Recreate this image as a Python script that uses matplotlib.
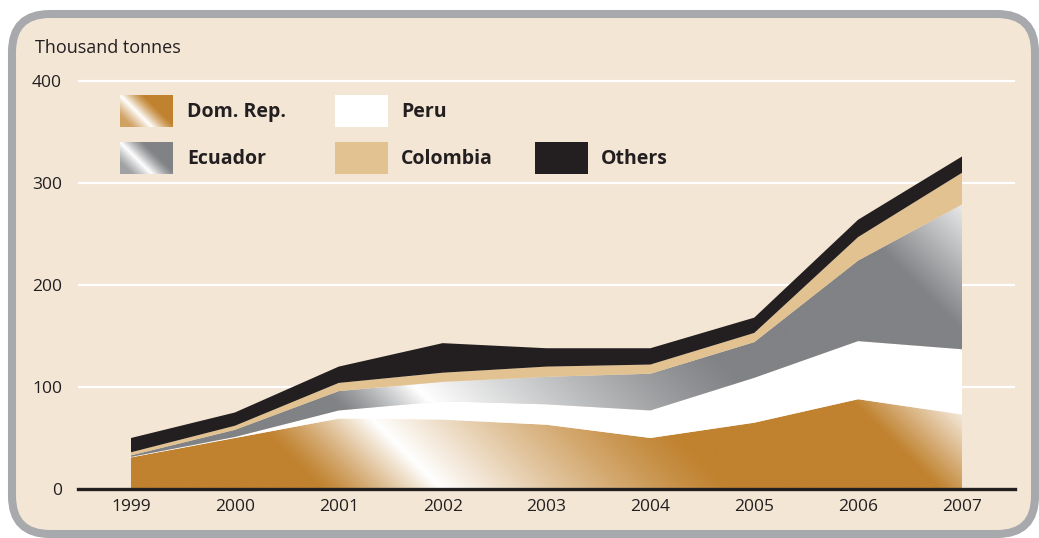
"""Stacked area chart: production by origin, 1999-2007 (thousand tonnes)."""

import matplotlib
matplotlib.use("Agg")
import matplotlib.pyplot as plt
import numpy as np
from matplotlib.patches import FancyBboxPatch, Rectangle

plt.rcParams["font.family"] = ["Open Sans", "DejaVu Sans"]

# ---- data -----------------------------------------------------------------
years = [1999, 2000, 2001, 2002, 2003, 2004, 2005, 2006, 2007]
dom_rep = [31, 50, 69, 68, 63, 50, 65, 88, 73]
peru = [0.5, 1, 8, 18, 20, 27, 44, 57, 64]
ecuador = [1.5, 7, 19, 19, 27, 36, 35, 79, 142]
colombia = [3, 4, 8, 9, 10, 9, 9, 23, 31]
others = [14, 13, 16, 29, 18, 16, 15, 17, 16]
y_ticks = [0, 100, 200, 300, 400]

# ---- styling ----------------------------------------------------------------
W, H = 1039, 538
BG = "#f3e6d5"
BORDER = "#a7a9ac"
INK = "#231f20"
GOLD = np.array([0xc0, 0x82, 0x2f]) / 255
GRAY = np.array([0x80, 0x82, 0x85]) / 255
WHITE = np.array([1.0, 1.0, 1.0])
TAN = "#e2c290"
BLACK = "#231f20"


def px_box(x, y_top, w, h):
    return [x / W, 1 - (y_top + h) / H, w / W, h / H]


def blend(base, w):
    w = np.clip(w, 0, 1)[..., None]
    return base * (1 - w) + WHITE * w


def ramp(v, left0, centre, right1, p_left=1.2, p_right=1.2):
    w = np.zeros_like(v, dtype=float)
    m = (v >= left0) & (v < centre)
    w[m] = ((v[m] - left0) / (centre - left0)) ** p_left
    m = (v >= centre) & (v < right1)
    w[m] = (1 - (v[m] - centre) / (right1 - centre)) ** p_right
    return w


# gradients run along the up-right diagonal: colour constant on v = dx + dy
def gold_shade(v):
    w = ramp(v, 190, 310, 600)
    w = np.maximum(w, np.clip((v - 810) / 100, 0, 1) * 0.85)
    return blend(GOLD, w)


def gray_shade(v):
    w = ramp(v, 290, 385, 720)
    w = np.maximum(w, np.clip((v - 990) / 130, 0, 1) * 0.85)
    return blend(GRAY, w)


def gradient_area(ax, x, lower, upper, shade):
    coll = ax.fill_between(x, lower, upper, facecolor="none", edgecolor="none")
    x0, x1 = ax.get_xlim()
    y0, y1 = ax.get_ylim()
    gx = np.linspace(x0, x1, 700)
    gy = np.linspace(y0, y1, 420)
    X, Y = np.meshgrid(gx, gy)
    disp = ax.transData.transform(np.column_stack([X.ravel(), Y.ravel()]))
    ox, oy = ax.transData.transform((years[0], 0))
    v = (disp[:, 0] - ox + disp[:, 1] - oy).reshape(X.shape)
    im = ax.imshow(shade(v), extent=[x0, x1, y0, y1], origin="lower",
                   aspect="auto", interpolation="bilinear", zorder=2)
    im.set_clip_path(coll.get_paths()[0], transform=ax.transData)
    ax.set_xlim(x0, x1)
    ax.set_ylim(y0, y1)


def legend_gradient(fig, box, base):
    lax = fig.add_axes(box)
    lax.set_axis_off()
    X, Y = np.meshgrid(np.linspace(0, 53, 120), np.linspace(0, 32, 70))
    v = X + Y
    w = np.maximum(ramp(v, 0, 32, 56, 1.4, 1.3), 0.25 * (v < 32))
    lax.imshow(blend(base, w), origin="lower", aspect="auto",
               interpolation="bilinear", extent=[0, 1, 0, 1])


fig = plt.figure(figsize=(W / 100, H / 100), dpi=100, facecolor="white")

frame = FancyBboxPatch((0.12, 0.04), 10.23, 5.20,
                       boxstyle="round,pad=0,rounding_size=0.38",
                       transform=fig.dpi_scale_trans,
                       facecolor=BG, edgecolor=BORDER, lw=5.8, zorder=-5)
fig.add_artist(frame)

# axes: y=0 at px 489, 1 unit = 1.02 px; 1999 at px 131, 2007 at px 962
ax = fig.add_axes(px_box(78, 489 - 410 * 1.02, 1015 - 78, 410 * 1.02))
ax.set_facecolor("none")
step = (962 - 131) / 8
ax.set_xlim(1999 - (131 - 78) / step, 2007 + (1015 - 962) / step)
ax.set_ylim(0, 410)

for t in y_ticks[1:]:
    ax.axhline(t, color="white", lw=1.6, zorder=1)

c1 = np.array(dom_rep, dtype=float)
c2 = c1 + peru
c3 = c2 + ecuador
c4 = c3 + colombia
c5 = c4 + others

gradient_area(ax, years, 0, c1, gold_shade)
ax.fill_between(years, c1, c2, facecolor="white", edgecolor="none", zorder=2)
gradient_area(ax, years, c2, c3, gray_shade)
ax.fill_between(years, c3, c4, facecolor=TAN, edgecolor="none", zorder=2)
ax.fill_between(years, c4, c5, facecolor=BLACK, edgecolor="none", zorder=2)

ax.axhline(0, color=INK, lw=2.4, zorder=4, clip_on=False)

for s in ax.spines.values():
    s.set_visible(False)
ax.set_xticks(years)
ax.set_xticklabels([str(y) for y in years])
ax.set_yticks(y_ticks)
ax.tick_params(axis="x", length=0, pad=7, labelsize=12.5, labelcolor=INK)
ax.tick_params(axis="y", length=0, pad=11.5, labelsize=12.5, labelcolor=INK)

fig.text(35 / W, 1 - 53 / H, "Thousand tonnes", fontsize=13, color=INK,
         ha="left", va="baseline")

# legend
legend_gradient(fig, px_box(120, 95, 53, 32), GOLD)
legend_gradient(fig, px_box(120, 142, 53, 32), GRAY)
for (x, y), col in [((335, 95), "white"), ((335, 142), TAN), ((535, 142), BLACK)]:
    b = px_box(x, y, 53, 32)
    fig.add_artist(Rectangle((b[0], b[1]), b[2], b[3], transform=fig.transFigure,
                             facecolor=col, edgecolor="none"))

legend_labels = [("Dom. Rep.", 187, 112), ("Ecuador", 187, 159),
                 ("Peru", 401, 112), ("Colombia", 401, 159), ("Others", 601, 159)]
for label, x, y in legend_labels:
    fig.text(x / W, 1 - y / H, label, fontsize=14, fontweight="bold",
             color=INK, ha="left", va="center")

fig.savefig("out.png", dpi=100)
